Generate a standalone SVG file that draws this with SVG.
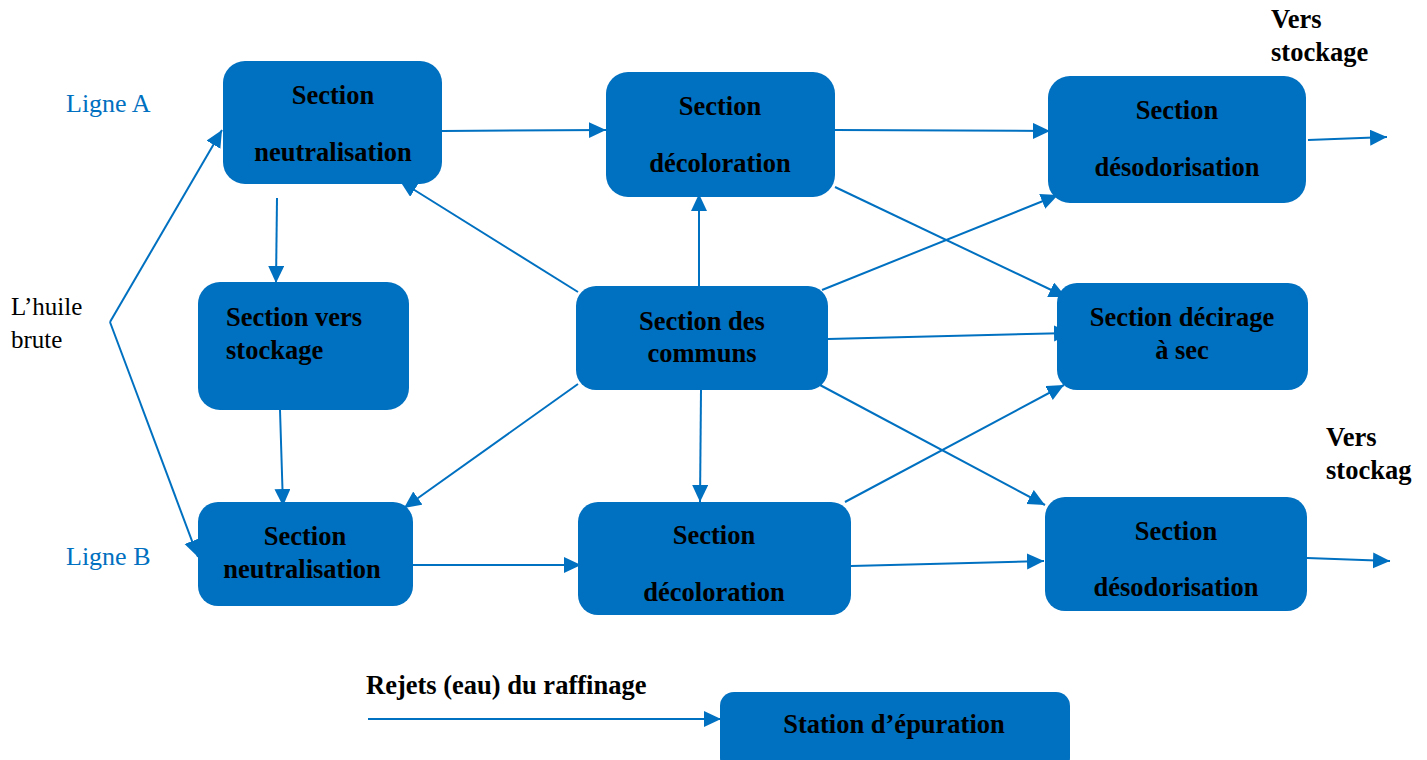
<svg xmlns="http://www.w3.org/2000/svg" width="1427" height="760" viewBox="0 0 1427 760">
<defs>
<style>
.box{fill:#0070C0;}
.t{font-family:"Liberation Serif","Times New Roman",serif;font-weight:bold;font-size:26.5px;fill:#000;text-anchor:middle;}
.tl{font-family:"Liberation Serif","Times New Roman",serif;font-weight:bold;font-size:26.5px;fill:#000;}
.lab{font-family:"Liberation Serif","Times New Roman",serif;font-size:25px;fill:#000;}
.ligne{font-family:"Liberation Serif","Times New Roman",serif;font-size:26px;fill:#0070C0;}
.c{stroke:#0070C0;stroke-width:2;fill:none;}
.ca{stroke:#0070C0;stroke-width:2;fill:none;marker-end:url(#ah);}
</style>
<marker id="ah" markerUnits="userSpaceOnUse" markerWidth="20" markerHeight="18" refX="17" refY="8" orient="auto">
<path d="M0,0 L17,8 L0,16 Z" fill="#0070C0"/>
</marker>
</defs>
<rect width="1427" height="760" fill="#fff"/>

<g id="connectors">
<line class="ca" x1="110" y1="322" x2="222" y2="130"/>
<line class="ca" x1="110" y1="322" x2="198" y2="557"/>
<line class="ca" x1="442" y1="131" x2="606" y2="130"/>
<line class="ca" x1="835" y1="130" x2="1050" y2="131"/>
<line class="ca" x1="1308" y1="140" x2="1387" y2="137"/>
<line class="ca" x1="277" y1="198" x2="276" y2="283"/>
<line class="ca" x1="280" y1="410" x2="283" y2="506"/>
<line class="ca" x1="578" y1="292" x2="400" y2="181"/>
<line class="ca" x1="699" y1="286" x2="699" y2="194"/>
<line class="ca" x1="822" y1="290" x2="1058" y2="195"/>
<line class="ca" x1="835" y1="187" x2="1066" y2="297"/>
<line class="ca" x1="828" y1="339" x2="1071" y2="333"/>
<line class="ca" x1="578" y1="384" x2="404" y2="508"/>
<line class="ca" x1="701" y1="390" x2="700" y2="502"/>
<line class="ca" x1="820" y1="385" x2="1045" y2="505"/>
<line class="ca" x1="845" y1="502" x2="1064" y2="385"/>
<line class="ca" x1="413" y1="565" x2="581" y2="565"/>
<line class="ca" x1="851" y1="566" x2="1044" y2="561"/>
<line class="ca" x1="1307" y1="558" x2="1390" y2="561"/>
<line class="ca" x1="368" y1="719" x2="721" y2="719"/>
</g>

<g id="n-neutA"><rect class="box" x="223" y="61" width="219" height="123" rx="22"/>
<text class="t" x="333" y="104">Section</text><text class="t" x="333" y="161">neutralisation</text></g>
<g id="n-decolA"><rect class="box" x="606" y="72" width="229" height="125" rx="22"/>
<text class="t" x="720" y="115">Section</text><text class="t" x="720" y="172">décoloration</text></g>
<g id="n-desodA"><rect class="box" x="1048" y="76" width="258" height="127" rx="22"/>
<text class="t" x="1177" y="119">Section</text><text class="t" x="1177" y="176">désodorisation</text></g>
<g id="n-stock"><rect class="box" x="198" y="282" width="211" height="128" rx="22"/>
<text class="tl" x="226" y="326">Section vers</text><text class="tl" x="226" y="359">stockage</text></g>
<g id="n-communs"><rect class="box" x="576" y="286" width="252" height="104" rx="20"/>
<text class="t" x="702" y="330">Section des</text><text class="t" x="702" y="362">communs</text></g>
<g id="n-decirage"><rect class="box" x="1057" y="283" width="251" height="107" rx="20"/>
<text class="t" x="1182" y="326">Section décirage</text><text class="t" x="1182" y="359">à sec</text></g>
<g id="n-neutB"><rect class="box" x="198" y="502" width="215" height="104" rx="20"/>
<text class="t" x="305" y="545">Section</text><text class="t" x="302" y="578">neutralisation</text></g>
<g id="n-decolB"><rect class="box" x="578" y="502" width="273" height="113" rx="20"/>
<text class="t" x="714" y="544">Section</text><text class="t" x="714" y="601">décoloration</text></g>
<g id="n-desodB"><rect class="box" x="1045" y="497" width="262" height="114" rx="20"/>
<text class="t" x="1176" y="540">Section</text><text class="t" x="1176" y="596">désodorisation</text></g>
<g id="n-station"><rect class="box" x="720" y="692" width="350" height="80" rx="14"/>
<text class="t" x="894" y="733">Station d’épuration</text></g>

<g id="labels">
<text class="ligne" x="66" y="112">Ligne A</text>
<text class="ligne" x="66" y="565">Ligne B</text>
<text class="lab" x="11" y="315">L’huile</text>
<text class="lab" x="11" y="348">brute</text>
<text class="tl" x="1271" y="28">Vers</text>
<text class="tl" x="1271" y="61">stockage</text>
<text class="tl" x="1326" y="446">Vers</text>
<text class="tl" x="1326" y="479">stockag</text>
<text class="tl" x="366" y="694">Rejets (eau) du raffinage</text>
</g>
</svg>
